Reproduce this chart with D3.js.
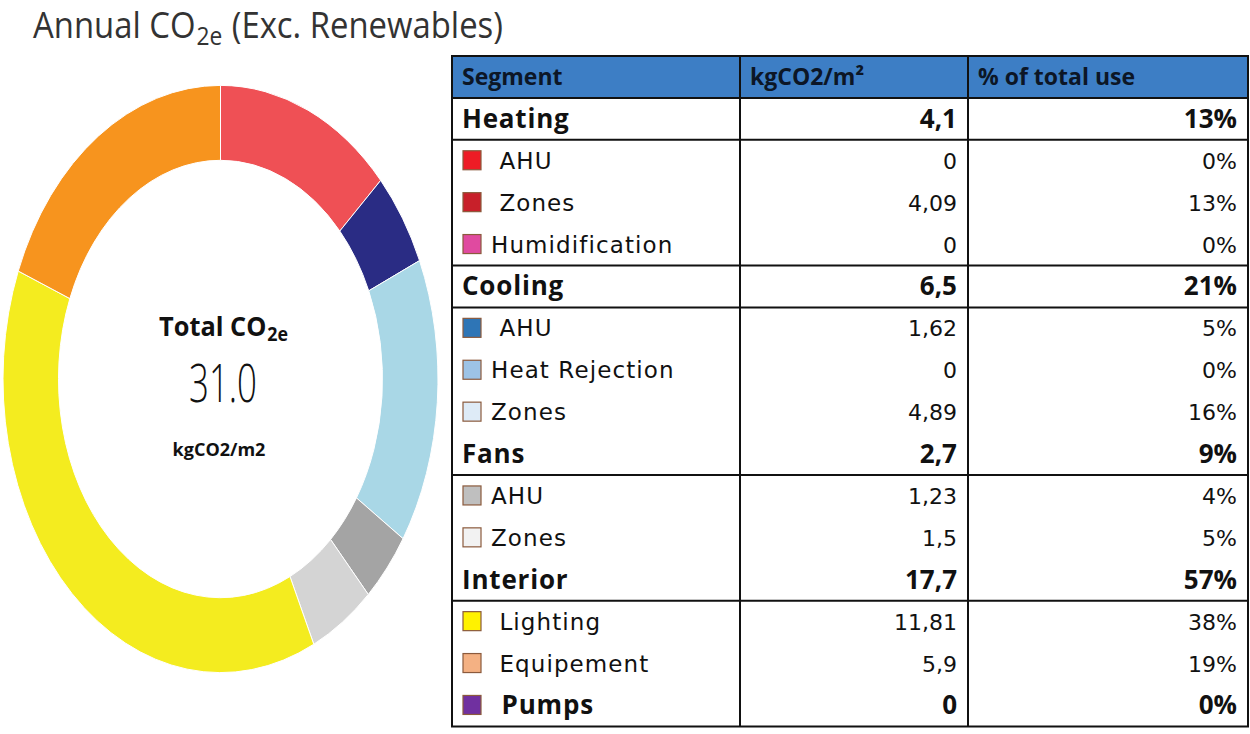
<!DOCTYPE html>
<html><head><meta charset="utf-8">
<script src="https://cdn.jsdelivr.net/npm/d3@7"></script>
<style>
html,body{margin:0;padding:0;background:#fff;}
svg{display:block;}
text{white-space:pre;}
</style></head><body>
<svg id="c" width="1250" height="734"></svg>
<script>
// ---------- data ----------
const headers = ["Segment", "kgCO2/m²", "% of total use"];
const segments = ["Heating", "Cooling", "Fans", "Interior", "Pumps"];
const segmentValues = [4.1, 6.5, 2.7, 17.7, 0];
const segmentPercents = [13, 21, 9, 57, 0];

const subLabels = [" AHU", " Zones", "Humidification", " AHU", "Heat Rejection", "Zones", "AHU", "Zones", " Lighting", " Equipement"];
const subParents = ["Heating", "Heating", "Heating", "Cooling", "Cooling", "Cooling", "Fans", "Fans", "Interior", "Interior"];
const subValues = [0, 4.09, 0, 1.62, 0, 4.89, 1.23, 1.5, 11.81, 5.9];
const subPercents = [0, 13, 0, 5, 0, 16, 4, 5, 38, 19];

const titleParts = ["Annual CO", "2e", " (Exc. Renewables)"];
const totalParts = ["Total CO", "2e"];
const totalValue = "31.0";
const totalUnit = "kgCO2/m2";

// ---------- colours ----------
const swatchColors = ["#EE1C25", "#C8202A", "#E04AA0", "#2E75B6", "#9DC3E6", "#DEEBF7", "#BFBFBF", "#F2F2F2", "#FFF200", "#F4B183"];
const pumpsSwatch = "#7030A0";
const ringColors = ["#EF5055", "#EF5055", "#E04AA0", "#2A2C84", "#9DC3E6", "#A9D7E6", "#A4A4A4", "#D4D4D4", "#F4EC1F", "#F7941E"];

const fmt = v => String(v).replace(".", ",");
const svg = d3.select("#c");

// rich text with subscript, drawn as separate text pieces and fitted to a width
function richText(x, y, parts, opt) {
  const g = svg.append("g");
  let cur = 0;
  parts.forEach((p, i) => {
    const sub = i === 1;
    const t = g.append("text").attr("x", cur).attr("y", sub ? opt.subDy : 0)
      .attr("font-family", opt.family).attr("font-weight", opt.weight)
      .attr("font-size", sub ? opt.subSize : opt.size).attr("fill", opt.fill).text(p);
    cur += t.node().getComputedTextLength() + (sub || i === 0 ? 1 : 0);
  });
  const s = opt.width / cur;
  const x0 = opt.anchor === "middle" ? x - opt.width / 2 : x;
  g.attr("transform", `translate(${x0},${y}) scale(${s},1)`);
  return g;
}

// ---------- title ----------
richText(33, 38, titleParts, {family: "Open Sans", weight: 400, size: 36, subSize: 25, subDy: 7, fill: "#333", width: 470});

// ---------- donut ----------
const cx = 220.5, cy = 379, sy = 1.35;
const pie = d3.pie().sort(null).value(d => d.v);
const arcs = pie(subValues.map((v, i) => ({v, i})));
const arc = d3.arc().innerRadius(162).outerRadius(217.5);
const g = svg.append("g").attr("transform", `translate(${cx},${cy}) scale(1,${sy})`);
g.selectAll("path").data(arcs.filter(a => a.data.v > 0)).join("path")
  .attr("d", arc)
  .attr("fill", d => ringColors[d.data.i])
  .attr("stroke", "#fff").attr("stroke-width", 1)
  .attr("vector-effect", "non-scaling-stroke");

richText(224, 336, totalParts, {family: "Open Sans", weight: 700, size: 27, subSize: 19, subDy: 5, fill: "#111", width: 130, anchor: "middle"});

svg.append("text").attr("x", 223).attr("y", 402).attr("text-anchor", "middle")
  .attr("font-family", "Open Sans").attr("font-weight", 300).attr("font-size", 54).attr("fill", "#111")
  .attr("textLength", 68).attr("lengthAdjust", "spacingAndGlyphs")
  .text(totalValue);

svg.append("text").attr("x", 219).attr("y", 456).attr("text-anchor", "middle")
  .attr("font-family", "Open Sans").attr("font-weight", 700).attr("font-size", 18).attr("fill", "#111")
  .text(totalUnit);

// ---------- table ----------
const rows = [{type: "header"}];
segments.forEach((s, si) => {
  const subs = subParents.map((p, j) => p === s ? j : -1).filter(j => j >= 0);
  if (subs.length) {
    rows.push({type: "seg", label: s, value: segmentValues[si], pct: segmentPercents[si]});
    subs.forEach(j => rows.push({type: "sub", label: subLabels[j], value: subValues[j], pct: subPercents[j], color: swatchColors[j]}));
  } else {
    rows.push({type: "segSwatch", label: " " + s, value: segmentValues[si], pct: segmentPercents[si], color: pumpsSwatch});
  }
});

const colX = [452, 740, 968, 1248];
const y = d3.scaleBand().domain(d3.range(rows.length)).range([56, 56 + 41.9 * rows.length]).padding(0);
const tb = svg.append("g");

tb.append("rect").attr("x", colX[0]).attr("y", y(0)).attr("width", colX[3] - colX[0]).attr("height", y.bandwidth())
  .attr("fill", "#3D7EC5");

headers.forEach((h, i) => {
  tb.append("text").attr("x", colX[i] + 10).attr("y", y(0) + y.bandwidth() / 2 + 8)
    .attr("font-family", "Open Sans").attr("font-weight", 700).attr("font-size", 23).attr("fill", "#0c1626")
    .text(h);
});

rows.forEach((r, i) => {
  if (r.type === "header") return;
  const yc = y(i) + y.bandwidth() / 2;
  const bold = r.type !== "sub";
  if (r.color) {
    tb.append("rect").attr("x", 463).attr("y", yc - 10).attr("width", 18).attr("height", 19)
      .attr("fill", r.color).attr("stroke", "#8B5A3C").attr("stroke-width", 1.2);
  }
  const lx = r.type === "seg" ? 462 : (r.type === "segSwatch" ? 494 : 491);
  const fam = bold ? "Open Sans" : "DejaVu Sans";
  const fs = bold ? 26 : 23;
  const fw = bold ? 700 : 400;
  const by = yc + (bold ? 9 : 8);
  tb.append("text").attr("x", lx).attr("y", by)
    .attr("font-family", fam).attr("font-weight", fw).attr("font-size", fs)
    .attr("letter-spacing", bold ? 0.8 : 1.1).attr("fill", "#111").text(r.label);
  tb.append("text").attr("x", colX[2] - 11).attr("y", by).attr("text-anchor", "end")
    .attr("font-family", fam).attr("font-weight", fw).attr("font-size", bold ? fs : 22).attr("fill", "#111")
    .text(fmt(r.value));
  tb.append("text").attr("x", colX[3] - 11).attr("y", by).attr("text-anchor", "end")
    .attr("font-family", fam).attr("font-weight", fw).attr("font-size", bold ? fs : 22).attr("fill", "#111")
    .text(r.pct + "%");
});

const borderAfter = [];
rows.forEach((r, i) => {
  if (r.type === "header" || r.type === "seg") borderAfter.push(i);
  if (r.label === "Humidification") borderAfter.push(i);
});
const hy = [y(0)].concat(borderAfter.map(i => y(i) + y.bandwidth())).concat([y(rows.length - 1) + y.bandwidth()]);
tb.selectAll("line.h").data(hy).join("line").attr("class", "h")
  .attr("x1", colX[0] - 1).attr("x2", colX[3] + 1).attr("y1", d => d).attr("y2", d => d)
  .attr("stroke", "#111").attr("stroke-width", 2);
tb.selectAll("line.v").data(colX).join("line").attr("class", "v")
  .attr("x1", d => d).attr("x2", d => d).attr("y1", y(0)).attr("y2", y(rows.length - 1) + y.bandwidth())
  .attr("stroke", "#111").attr("stroke-width", 2);
</script>
</body></html>
